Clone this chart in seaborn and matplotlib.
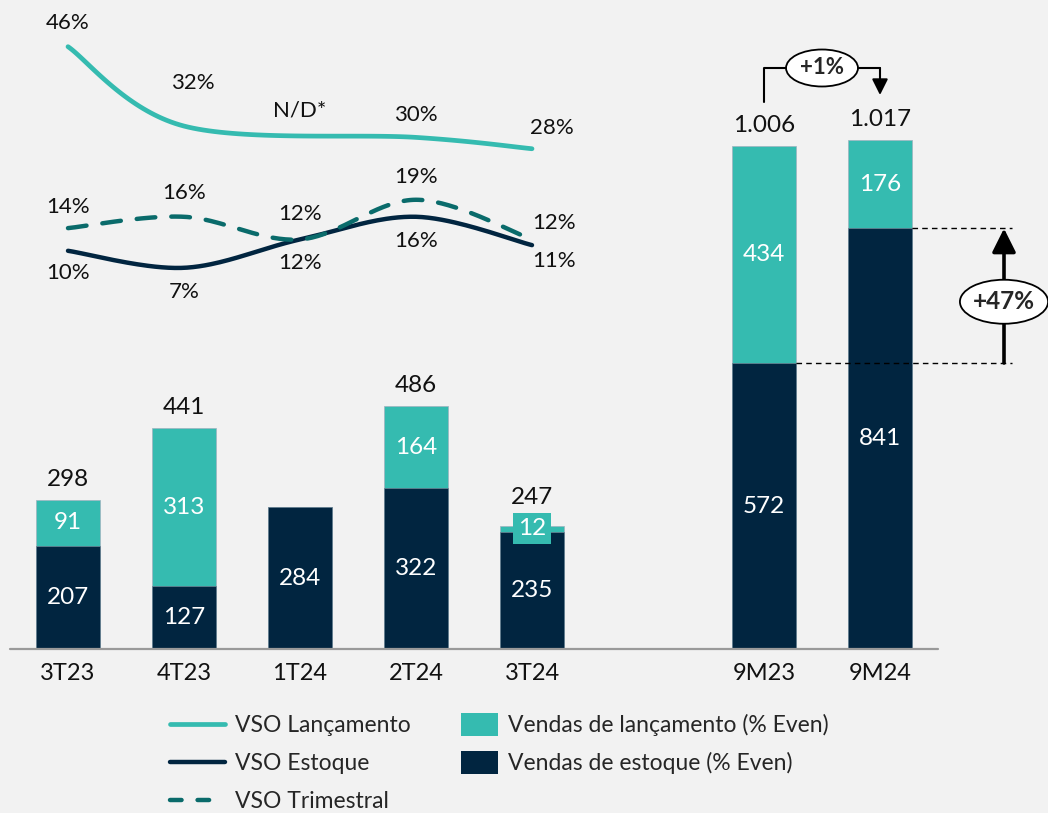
import numpy as np
import pandas as pd
import matplotlib
matplotlib.use("Agg")
import matplotlib.pyplot as plt
import seaborn as sns
from matplotlib.patches import Ellipse, Patch
from matplotlib.lines import Line2D
import matplotlib.transforms as mtransforms

# ---------------- data ----------------
periods = ["3T23", "4T23", "1T24", "2T24", "3T24", "9M23", "9M24"]
vendas_lancamento = [91, 313, 0, 164, 12, 434, 176]
vendas_estoque = [207, 127, 284, 322, 235, 572, 841]
vendas_total = [298, 441, 284, 486, 247, 1006, 1017]
mostrar_total = [True, True, False, True, True, True, True]

quarters = ["3T23", "4T23", "1T24", "2T24", "3T24"]
vso_lancamento = [46, 32, None, 30, 28]
vso_estoque = [10, 7, 12, 16, 11]
vso_trimestral = [14, 16, 12, 19, 12]

# ---------------- style ----------------
TEAL = "#35BBB0"
NAVY = "#012540"
DTEAL = "#0A6B6B"
BG = "#F2F2F2"

sns.set_style("white")
plt.rcParams["font.family"] = ["Lato", "DejaVu Sans"]

W, H, DPI = 1048, 813, 100
fig = plt.figure(figsize=(W / DPI, H / DPI), dpi=DPI, facecolor=BG)
base_px = 649
ax = fig.add_axes([0, (H - base_px) / H, 1, base_px / H])
ax.set_facecolor(BG)

order = periods[:5] + [" "] + periods[5:]
df = pd.DataFrame({"periodo": periods, "total": vendas_total, "estoque": vendas_estoque,
                   "lanc": vendas_lancamento})

sns.barplot(data=df, x="periodo", y="total", order=order, color=TEAL, width=0.55,
            saturation=1, edgecolor="#9fb3bf", linewidth=0.5, ax=ax)
sns.barplot(data=df, x="periodo", y="estoque", order=order, color=NAVY, width=0.55,
            saturation=1, edgecolor="#6f8596", linewidth=0.5, ax=ax)

xpos = {p: order.index(p) for p in periods}
x_left = -68 / 116
x_right = (W - 68) / 116
ax.set_xlim(x_left, x_right)
ax.set_ylim(0, base_px * 2)
for s in ax.spines.values():
    s.set_visible(False)
ax.set_yticks([])
ax.set_ylabel("")
ax.set_xlabel("")
ax.set_xticks([xpos[p] for p in periods])
ax.set_xticklabels(periods, fontsize=17, color="#111111")
ax.tick_params(axis="x", length=0, pad=10)
ax.plot([-0.5, 7.5], [0, 0], color="#9a9a9a", lw=1.6, clip_on=False, zorder=5)


def fmt(v):
    return f"{v:,}".replace(",", ".")


for p, l, e, t, show in zip(periods, vendas_lancamento, vendas_estoque, vendas_total, mostrar_total):
    x = xpos[p]
    ax.text(x, e / 2, str(e), color="white", ha="center", va="center", fontsize=17.5, zorder=6)
    if l > 0:
        if l < 30:
            ax.text(x, (e + t) / 2, str(l), color="white", ha="center", va="center", fontsize=17.5,
                    zorder=7, bbox=dict(boxstyle="square,pad=0.2", fc=TEAL, ec="none"))
        else:
            ax.text(x, (e + t) / 2, str(l), color="white", ha="center", va="center",
                    fontsize=17.5, zorder=6)
    if show:
        off = 28 if l < 30 else 21
        tr = mtransforms.offset_copy(ax.transData, fig=fig, x=0, y=off, units="dots")
        ax.text(x, t, fmt(t), transform=tr, ha="center", va="center", fontsize=17.5,
                color="#111111")

# ---------------- annotations on 9M bars ----------------
i23, i24 = xpos["9M23"], xpos["9M24"]
t23, t24 = vendas_total[periods.index("9M23")], vendas_total[periods.index("9M24")]
e23, e24 = vendas_estoque[periods.index("9M23")], vendas_estoque[periods.index("9M24")]
pct_total = round((t24 / t23 - 1) * 100)
pct_est = round((e24 / e23 - 1) * 100)

ytop = t23 + 156
ax.plot([i23, i23, i24], [t23 + 88, ytop, ytop], color="black", lw=1.5, zorder=6)
ax.annotate("", xy=(i24, t24 + 91), xytext=(i24, ytop),
            arrowprops=dict(arrowstyle="-|>,head_width=0.3,head_length=0.6", color="black",
                            lw=1.5, mutation_scale=16, shrinkA=0, shrinkB=0), zorder=6)
ax.add_patch(Ellipse(((i23 + i24) / 2, ytop), 0.62, 74, fc="white", ec="black", lw=1.3, zorder=7))
ax.text((i23 + i24) / 2, ytop, f"+{pct_total}%", ha="center", va="center", fontsize=16,
        fontweight="bold", zorder=8)

xr = (1012 - 68) / 116
xa = (1004 - 68) / 116
ax.plot([i23 + 0.275, xr], [e23, e23], color="black", lw=1, ls=(0, (4, 3)), zorder=6)
ax.plot([i24 + 0.275, xr], [e24, e24], color="black", lw=1, ls=(0, (4, 3)), zorder=6)
ax.annotate("", xy=(xa, e24), xytext=(xa, e23),
            arrowprops=dict(arrowstyle="-|>,head_width=0.4,head_length=0.8", color="black",
                            lw=2.6, mutation_scale=18, shrinkA=0, shrinkB=0), zorder=6)
ax.add_patch(Ellipse((xa, (e23 + e24) / 2 - 12), 0.76, 88, fc="white", ec="black", lw=1.3, zorder=7))
ax.text(xa, (e23 + e24) / 2 - 12, f"+{pct_est}%", ha="center", va="center", fontsize=17.5,
        fontweight="bold", zorder=8)

# ---------------- VSO lines ----------------
ax2 = ax.twinx()
ax2.set_ylim(-(base_px - 307.5) / 5.67, 307.5 / 5.67)
ax2.set_xlim(x_left, x_right)
ax2.axis("off")


def catmull(xs, ys, n=40):
    P = np.column_stack([xs, ys]).astype(float)
    P = np.vstack([P[0], P, P[-1]])
    out = []
    for i in range(1, len(P) - 2):
        p0, p1, p2, p3 = P[i - 1], P[i], P[i + 1], P[i + 2]
        t = np.linspace(0, 1, n)[:, None]
        c = 0.5 * ((2 * p1) + (-p0 + p2) * t + (2 * p0 - 5 * p1 + 4 * p2 - p3) * t ** 2
                   + (-p0 + 3 * p1 - 3 * p2 + p3) * t ** 3)
        out.append(c)
    c = np.vstack(out)
    return c[:, 0], c[:, 1]


qx = np.array([xpos[q] for q in quarters], dtype=float)
lx = [x for x, v in zip(qx, vso_lancamento) if v is not None]
lv = [v for v in vso_lancamento if v is not None]
sx, sy = catmull(lx, lv)
ax2.plot(sx, sy, color=TEAL, lw=3.4, solid_capstyle="round", zorder=3)
ex, ey = catmull(qx, vso_estoque)
ax2.plot(ex, ey, color=NAVY, lw=3.2, solid_capstyle="round", zorder=3)
tx, ty = catmull(qx, vso_trimestral)
ax2.plot(tx, ty, color=DTEAL, lw=3.2, dashes=(4.2, 3.6), dash_capstyle="round", zorder=3)


def lab(x, y, s, dx, dy):
    ax2.annotate(s, (x, y), xytext=(dx, dy), textcoords="offset pixels", ha="center",
                 va="center", fontsize=16, color="#111111")


lan_off = [(0, 24), (9, 43), (0, 25), (0, 22), (20, 21)]
for x, v, (dx, dy) in zip(qx, vso_lancamento, lan_off):
    if v is None:
        yv = np.interp(x, sx, sy)
        lab(x, yv, "N/D*", dx, dy)
    else:
        lab(x, v, f"{v}%", dx, dy)
est_off = [(0, -22), (0, -24), (0, -24), (0, -24), (22, -16)]
for x, v, (dx, dy) in zip(qx, vso_estoque, est_off):
    lab(x, v, f"{v}%", dx, dy)
tri_off = [(0, 21), (0, 24), (0, 25), (0, 23), (22, 16)]
for x, v, (dx, dy) in zip(qx, vso_trimestral, tri_off):
    lab(x, v, f"{v}%", dx, dy)

# ---------------- legends ----------------
h1 = [Line2D([], [], color=TEAL, lw=3.4, solid_capstyle="round"),
      Line2D([], [], color=NAVY, lw=3.2, solid_capstyle="round"),
      Line2D([], [], color=DTEAL, lw=3.2, dashes=(2.6, 3.6), dash_capstyle="round")]
fig.legend(h1, ["VSO Lançamento", "VSO Estoque", "VSO Trimestral"],
           loc="upper left", bbox_to_anchor=(170 / W, 1 - 715 / H), frameon=False,
           fontsize=16.5, handlelength=2.4, handletextpad=0.45, labelspacing=0.75,
           borderpad=0, borderaxespad=0)
h2 = [Patch(fc=TEAL, ec="none"), Patch(fc=NAVY, ec="none")]
fig.legend(h2, ["Vendas de lançamento (% Even)", "Vendas de estoque (% Even)"],
           loc="upper left", bbox_to_anchor=(461 / W, 1 - 713 / H), frameon=False,
           fontsize=16.5, handlelength=1.6, handleheight=1.2, handletextpad=0.45,
           labelspacing=0.62, borderpad=0, borderaxespad=0)

fig.savefig("out.png", dpi=DPI, facecolor=BG)
